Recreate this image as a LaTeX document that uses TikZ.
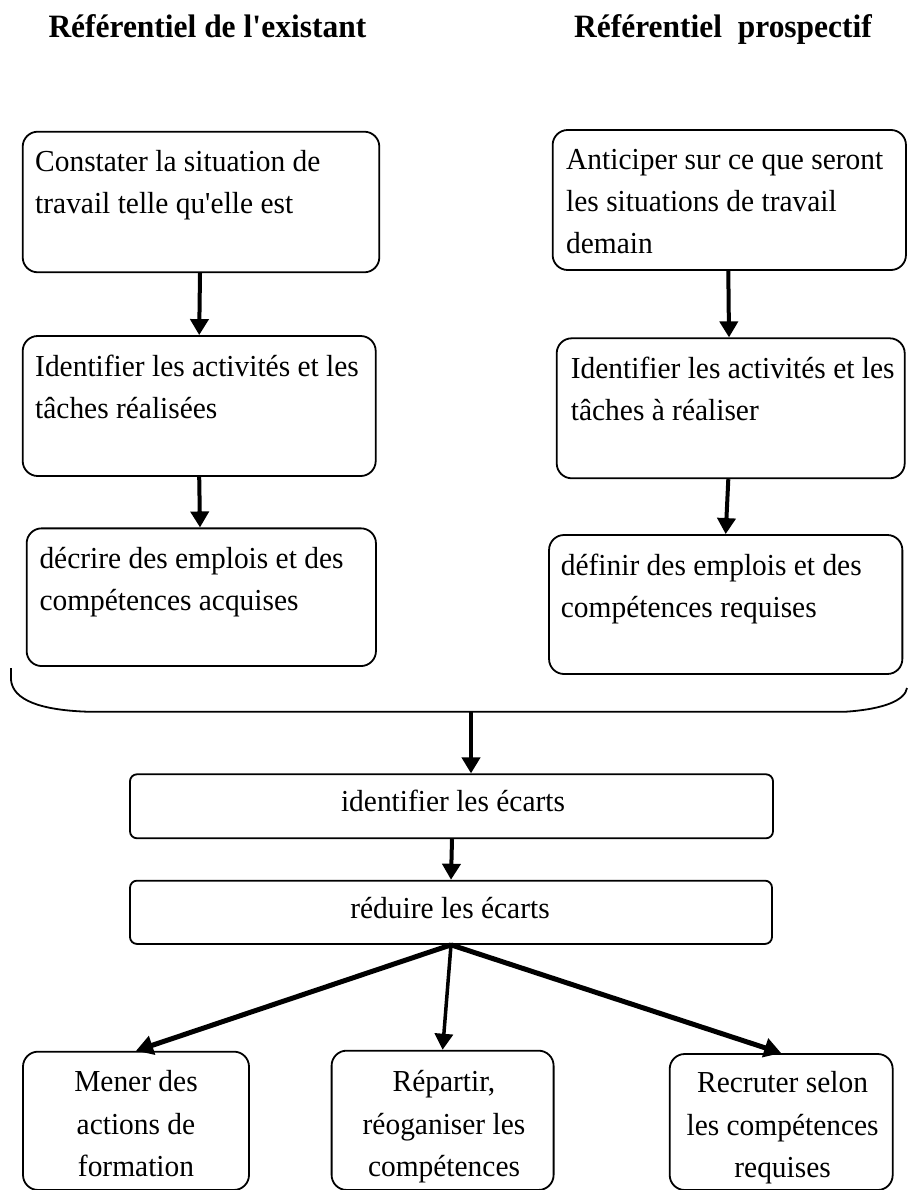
\documentclass[tikz,border=0pt]{standalone}
\usepackage{fontspec}
\setmainfont{Liberation Serif}[FakeStretch=0.965]
\usetikzlibrary{arrows.meta}
\newcommand{\ltext}[1]{\parbox[t]{360pt}{\raggedright\fontsize{30.5}{42}\selectfont #1}}
\newcommand{\ctext}[1]{\parbox[t]{240pt}{\centering\fontsize{30.5}{42.5}\selectfont #1}}
\begin{document}
\begin{tikzpicture}[x=1pt,y=-1pt,
  box/.style={draw, line width=1.8pt, rounded corners=15pt, inner sep=0pt},
  flatbox/.style={draw, line width=1.8pt, rounded corners=7pt, inner sep=0pt},
  ltxt/.style={anchor=base west, inner sep=0pt},
  ctxt/.style={anchor=base, inner sep=0pt},
  ttl/.style={anchor=base west, inner sep=0pt, font=\bfseries\fontsize{32.6}{36}\selectfont},
  arr/.style={line width=4pt, -{Triangle[width=18pt,length=16pt]}},
  arrthick/.style={line width=5pt, -{Triangle[width=19pt,length=17pt]}},
  brace/.style={line width=1.8pt}
]
\useasboundingbox (0,0) rectangle (909,1190);
\fill[white] (0,0) rectangle (909,1190);

% titles
\node[ttl] (t1) at (48.3,37.3) {Référentiel de l\textquotesingle existant};
\node[ttl] (t2) at (574,37.3) {Référentiel~~prospectif};

% left column
\node[box, minimum width=356.6pt, minimum height=140.6pt] (L1) at (201,202) {};
\node[box, minimum width=353pt, minimum height=140pt] (L2) at (199.2,406) {};
\node[box, minimum width=349.3pt, minimum height=137.7pt] (L3) at (201.3,597.2) {};
\node[ltxt] (L1t) at (35,171.7) {\ltext{Constater la situation de\\travail telle qu\textquotesingle elle est}};
\node[ltxt] (L2t) at (35,376.7) {\ltext{Identifier les activités et les\\tâches réalisées}};
\node[ltxt] (L3t) at (39.3,568.3) {\ltext{décrire des emplois et des\\compétences acquises}};

% right column
\node[box, minimum width=353.3pt, minimum height=140pt] (R1) at (729.3,200) {};
\node[box, minimum width=348pt, minimum height=140pt] (R2) at (730.7,408.3) {};
\node[box, minimum width=353.3pt, minimum height=139pt] (R3) at (725.7,604.5) {};
\node[ltxt] (R1t) at (566,170) {\ltext{Anticiper sur ce que seront\\les situations de travail\\demain}};
\node[ltxt] (R2t) at (570.7,378.3) {\ltext{Identifier les activités et les\\tâches à réaliser}};
\node[ltxt] (R3t) at (560.7,575) {\ltext{définir des emplois et des\\compétences requises}};

% column arrows
\draw[arr] ([xshift=-1pt]L1.south) -- (L2.north);
\draw[arr] (L2.south) -- ([xshift=-1.3pt]L3.north);
\draw[arr] ([xshift=-1pt]R1.south) -- ([xshift=-1.7pt]R2.north);
\draw[arr] ([xshift=-2.4pt]R2.south) -- (R3.north);

% brace
\draw[brace] (11,668) -- (11,680) .. controls (13,700) and (40,710) .. (87,711.7)
  -- (846,711.7) .. controls (885,709) and (905,700) .. (907,688);
\coordinate (bm) at (471,711.7);

% gap boxes
\node[flatbox, minimum width=643pt, minimum height=64pt] (E1) at (451.5,806.3) {};
\node[flatbox, minimum width=642pt, minimum height=63.3pt] (E2) at (451,912.3) {};
\node[anchor=base, inner sep=0pt, font=\fontsize{30.5}{36}\selectfont] (E1t) at (453,811.7) {identifier les écarts};
\node[anchor=base, inner sep=0pt, font=\fontsize{30.5}{36}\selectfont] (E2t) at (450,918) {réduire les écarts};

\draw[arr] (bm) -- (bm |- E1.north);
\draw[arr] ([xshift=0.5pt]E1.south) -- (E2.north);

% bottom boxes
\node[box, minimum width=226pt, minimum height=138.3pt] (B1) at (136,1120.8) {};
\node[box, minimum width=222pt, minimum height=139.3pt] (B2) at (442.6,1120.3) {};
\node[box, minimum width=223pt, minimum height=136pt] (B3) at (781.2,1122) {};
\node[ctxt] (B1t) at (136,1091.7) {\ctext{Mener des\\actions de\\formation}};
\node[ctxt] (B2t) at (444,1091.7) {\ctext{Répartir,\\réoganiser les\\compétences}};
\node[ctxt] (B3t) at (782.6,1092.5) {\ctext{Recruter selon\\les compétences\\requises}};

\draw[arrthick] (E2.south) -- (B1.north);
\draw[line width=3.5pt, -{Triangle[width=18pt,length=16pt]}] (E2.south) -- (B2.north);
\draw[arrthick] (E2.south) -- (B3.north);
\end{tikzpicture}
\end{document}
